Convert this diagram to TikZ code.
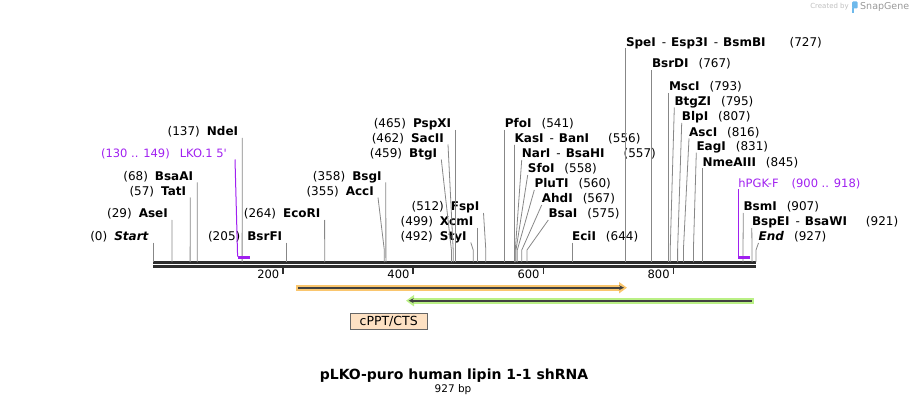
\documentclass[tikz,border=0pt]{standalone}
\usepackage{fontspec}
\setmainfont{DejaVu Sans}
\usetikzlibrary{calc, arrows.meta}

\definecolor{bbgray}{RGB}{45,45,45}
\definecolor{sitegray}{RGB}{135,135,135}
\definecolor{primerpurple}{RGB}{160,32,240}
\definecolor{featorange}{RGB}{250,198,110}
\definecolor{featgreen}{RGB}{186,240,134}
\definecolor{featline}{RGB}{64,64,64}
\definecolor{cpptfill}{RGB}{253,225,195}
\definecolor{logoblue}{RGB}{110,185,235}

\newcommand{\lgap}{\hspace{7pt}}
\newcommand{\rgap}{\hspace{10pt}}
\newcommand{\mgap}{\hspace{19pt}}
\newcommand{\dgap}{\hspace{6pt}-\hspace{5pt}}

\begin{document}
\begin{tikzpicture}[x=1pt, y=-1pt, font=\fontsize{12}{14}\selectfont,
    enzL/.style={anchor=south east, inner xsep=4pt, inner ysep=0pt, text height=9pt, text depth=2pt},
    enzR/.style={anchor=south west, inner xsep=0pt, inner ysep=0pt, text height=9pt, text depth=2pt},
    site/.style={sitegray, line width=0.8pt},
    bbline/.style={bbgray, line width=2.8pt},
    tick/.style={bbgray, line width=1.6pt},
    ticklbl/.style={anchor=east, inner sep=0pt, font=\fontsize{11.5}{13}\selectfont},
    primer/.style={primerpurple, line width=1pt},
    primerbar/.style={primerpurple, line width=2.4pt},
    primerlbl/.style={text=primerpurple, inner ysep=0pt, text height=9pt, text depth=2pt, font=\fontsize{11.5}{13}\selectfont},
    featlbl/.style={draw=black!60, fill=cpptfill, line width=0.8pt, minimum width=77pt, minimum height=16pt, inner sep=0pt, font=\fontsize{12.5}{14}\selectfont}
]

\useasboundingbox (0,0) rectangle (910,406);

% 1. Backbone (two strands) and the bend height of the site lines
\coordinate (bbL) at (153,262.3);
\coordinate (bbR) at (756,262.3);
\coordinate (bend) at (0,250);
\draw[bbline] (bbL) -- (bbR);
\draw[bbline] ($(bbL)+(0,3.9)$) -- ($(bbR)+(0,3.9)$);

% 2. Ruler ticks
\coordinate (t200) at (283.1,267);
\coordinate (t400) at (413.2,267);
\coordinate (t600) at (543.3,267);
\coordinate (t800) at (673.4,267);
\draw[tick] (t200) -- ++(0,7);
\draw[tick] (t400) -- ++(0,7);
\draw[tick] (t600) -- ++(0,7);
\draw[tick] (t800) -- ++(0,7);
\node[ticklbl] (l200) at (279.5,274) {200};
\node[ticklbl] (l400) at (409.6,274) {400};
\node[ticklbl] (l600) at (539.7,274) {600};
\node[ticklbl] (l800) at (669.8,274) {800};

% 3. Cut sites on the backbone
\coordinate (s0) at (153.0,262);
\coordinate (s29) at (171.9,262);
\coordinate (s57) at (190.1,262);
\coordinate (s68) at (197.2,262);
\coordinate (s137) at (242.1,262);
\coordinate (s205) at (286.4,262);
\coordinate (s264) at (324.7,262);
\coordinate (s355) at (384.3,262);
\coordinate (s358) at (385.9,262);
\coordinate (s459) at (451.4,262);
\coordinate (s462) at (453.2,262);
\coordinate (s465) at (455.3,262);
\coordinate (s492) at (473.2,262);
\coordinate (s499) at (477.5,262);
\coordinate (s512) at (485.8,262);
\coordinate (s541) at (504.7,262);
\coordinate (s556) at (514.6,262);
\coordinate (s557) at (515.3,262);
\coordinate (s558) at (516.0,262);
\coordinate (s560) at (517.3,262);
\coordinate (s567) at (521.8,262);
\coordinate (s575) at (527.0,262);
\coordinate (s644) at (571.9,262);
\coordinate (s727) at (625.8,262);
\coordinate (s767) at (651.8,262);
\coordinate (s793) at (668.8,262);
\coordinate (s795) at (670.2,262);
\coordinate (s807) at (677.6,262);
\coordinate (s816) at (683.4,262);
\coordinate (s831) at (693.4,262);
\coordinate (s845) at (702.4,262);
\coordinate (s907) at (743.0,262);
\coordinate (s921) at (752.1,262);
\coordinate (s927) at (756.0,262);

% 4. Enzyme labels left of their sites
\node[enzL] (Start) at (153,242.5) {(0)\lgap\textbf{\textit{Start}}};
\node[enzL] (AseI) at (172,220) {(29)\lgap\textbf{AseI}};
\node[enzL] (TatI) at (190.3,197.5) {(57)\lgap\textbf{TatI}};
\node[enzL] (BsaAI) at (197.3,182.5) {(68)\lgap\textbf{BsaAI}};
\node[enzL] (NdeI) at (242.3,138) {(137)\lgap\textbf{NdeI}};
\node[enzL] (BsrFI) at (286.4,242.5) {(205)\lgap\textbf{BsrFI}};
\node[enzL] (EcoRI) at (324.6,220) {(264)\lgap\textbf{EcoRI}};
\node[enzL] (BsgI) at (385.8,182.5) {(358)\lgap\textbf{BsgI}};
\node[enzL] (AccI) at (378,197.5) {(355)\lgap\textbf{AccI}};
\node[enzL] (PspXI) at (455.3,130) {(465)\lgap\textbf{PspXI}};
\node[enzL] (SacII) at (448,144.5) {(462)\lgap\textbf{SacII}};
\node[enzL] (BtgI) at (441.3,159.5) {(459)\lgap\textbf{BtgI}};
\node[enzL] (FspI) at (483.5,213) {(512)\lgap\textbf{FspI}};
\node[enzL] (XcmI) at (477.5,228) {(499)\lgap\textbf{XcmI}};
\node[enzL] (StyI) at (470.8,242.5) {(492)\lgap\textbf{StyI}};

\draw[site] (Start.south east) -- (s0);
\draw[site] (AseI.south east) -- (s29);
\draw[site] (TatI.south east) -- (s57);
\draw[site] (BsaAI.south east) -- (s68);
\draw[site] (NdeI.south east) -- (s137);
\draw[site] (BsrFI.south east) -- (s205);
\draw[site] (EcoRI.south east) -- (s264);
\draw[site] (BsgI.south east) -- (s358);
\draw[site] (AccI.south east) -- (s355 |- bend) -- (s355);
\draw[site] (PspXI.south east) -- (s465);
\draw[site] (SacII.south east) -- (s462 |- bend) -- (s462);
\draw[site] (BtgI.south east) -- (s459 |- bend) -- (s459);
\draw[site] (FspI.south east) -- (s512 |- bend) -- (s512);
\draw[site] (XcmI.south east) -- (s499);
\draw[site] (StyI.south east) -- (s492 |- bend) -- (s492);

% 5. Enzyme labels right of their sites
\node[enzR] (PfoI) at (504.7,130) {\textbf{PfoI}\rgap(541)};
\node[enzR] (KasI) at (514.4,145) {\textbf{KasI}\dgap\textbf{BanI}\mgap(556)};
\node[enzR] (NarI) at (521.7,160) {\textbf{NarI}\dgap\textbf{BsaHI}\mgap(557)};
\node[enzR] (SfoI) at (527.7,175) {\textbf{SfoI}\rgap(558)};
\node[enzR] (PluTI) at (534.3,190) {\textbf{PluTI}\rgap(560)};
\node[enzR] (AhdI) at (541.7,205) {\textbf{AhdI}\rgap(567)};
\node[enzR] (BsaI) at (548.3,220) {\textbf{BsaI}\rgap(575)};
\node[enzR] (EciI) at (571.9,242.5) {\textbf{EciI}\rgap(644)};
\node[enzR] (SpeI) at (625.8,48.5) {\textbf{SpeI}\dgap\textbf{Esp3I}\dgap\textbf{BsmBI}\hspace{24pt}(727)};
\node[enzR] (BsrDI) at (651.8,70) {\textbf{BsrDI}\rgap(767)};
\node[enzR] (MscI) at (668.8,93) {\textbf{MscI}\rgap(793)};
\node[enzR] (BtgZI) at (674.3,107.5) {\textbf{BtgZI}\rgap(795)};
\node[enzR] (BlpI) at (681.7,123) {\textbf{BlpI}\rgap(807)};
\node[enzR] (AscI) at (689,138.5) {\textbf{AscI}\rgap(816)};
\node[enzR] (EagI) at (696.3,152.7) {\textbf{EagI}\rgap(831)};
\node[enzR] (NmeAIII) at (702.4,168.3) {\textbf{NmeAIII}\rgap(845)};
\node[enzR] (BsmI) at (743.3,213) {\textbf{BsmI}\rgap(907)};
\node[enzR] (BspEI) at (751.8,228) {\textbf{BspEI}\dgap\textbf{BsaWI}\mgap(921)};
\node[enzR] (End) at (758.5,243) {\textbf{\textit{End}}\rgap(927)};

\draw[site] (PfoI.south west) -- (s541);
\draw[site] (KasI.south west) -- (s556 |- bend) -- (s556);
\draw[site] (NarI.south west) -- (s557 |- bend) -- (s557);
\draw[site] (SfoI.south west) -- (s558 |- bend) -- (s558);
\draw[site] (PluTI.south west) -- (s560 |- bend) -- (s560);
\draw[site] (AhdI.south west) -- (s567 |- bend) -- (s567);
\draw[site] (BsaI.south west) -- (s575 |- bend) -- (s575);
\draw[site] (EciI.south west) -- (s644);
\draw[site] (SpeI.south west) -- (s727);
\draw[site] (BsrDI.south west) -- (s767);
\draw[site] (MscI.south west) -- (s793);
\draw[site] (BtgZI.south west) -- (s795 |- bend) -- (s795);
\draw[site] (BlpI.south west) -- (s807 |- bend) -- (s807);
\draw[site] (AscI.south west) -- (s816 |- bend) -- (s816);
\draw[site] (EagI.south west) -- (s831 |- bend) -- (s831);
\draw[site] (NmeAIII.south west) -- (s845);
\draw[site] (BsmI.south west) -- (s907 |- bend) -- (s907);
\draw[site] (BspEI.south west) -- (s921);
\draw[site] (End.south west) -- (s927 |- bend) -- (s927);

% 6. Primers
\coordinate (p130) at (237.6,257.5);
\coordinate (p149) at (249.9,257.5);
\coordinate (p900) at (738.2,257.5);
\coordinate (p918) at (750.2,257.5);
\draw[primerbar] (p130) -- (p149);
\draw[primerbar] (p900) -- (p918);
\node[primerlbl, anchor=south east, inner xsep=8pt] (LKO) at (235,159.5) {(130 .. 149)\hspace{10pt}LKO.1 5\textquotesingle};
\node[primerlbl, anchor=south west, inner xsep=0pt] (hPGK) at (738.2,189.5) {hPGK-F\hspace{13pt}(900 .. 918)};
\draw[primer] (LKO.south east) -- ($(p130)+(0,-1)$);
\draw[primer] (hPGK.south west) -- ($(p900)+(0,-1)$);

% 7. Features below the ruler
\draw[line width=6pt, featorange, -{Triangle[length=8pt, width=11pt]}] (296,287.7) -- (627,287.7);
\draw[line width=2pt, featline, -{Stealth[length=5pt, width=5pt]}] (298.3,287.7) -- (624,287.7);
\draw[line width=6pt, featgreen, {Triangle[length=8pt, width=11pt]}-] (406,300.7) -- (754,300.7);
\draw[line width=2pt, featline, {Stealth[length=5pt, width=5pt]}-] (408.7,300.7) -- (751.7,300.7);
\node[featlbl] (cppt) at (388.7,321.3) {cPPT/CTS};

% 8. Title
\node[anchor=base, font=\bfseries\fontsize{14}{16}\selectfont] (title) at (454,379.5) {pLKO-puro human lipin 1-1 shRNA};
\node[anchor=base, font=\fontsize{10.5}{12}\selectfont] (size) at (453,392.3) {927 bp};

% 9. Watermark
\node[anchor=east, inner sep=0pt, text=black!25, font=\fontsize{7}{8}\selectfont] (made) at (849,7) {Created by};
\fill[logoblue, rounded corners=1pt] (852,1.5) rectangle (857.5,8.5);
\fill[logoblue] (852,8) rectangle (854.3,13);
\node[anchor=west, inner sep=0pt, text=black!40, font=\fontsize{9.5}{10}\selectfont] (snap) at (860,7) {SnapGene};

\end{tikzpicture}
\end{document}
